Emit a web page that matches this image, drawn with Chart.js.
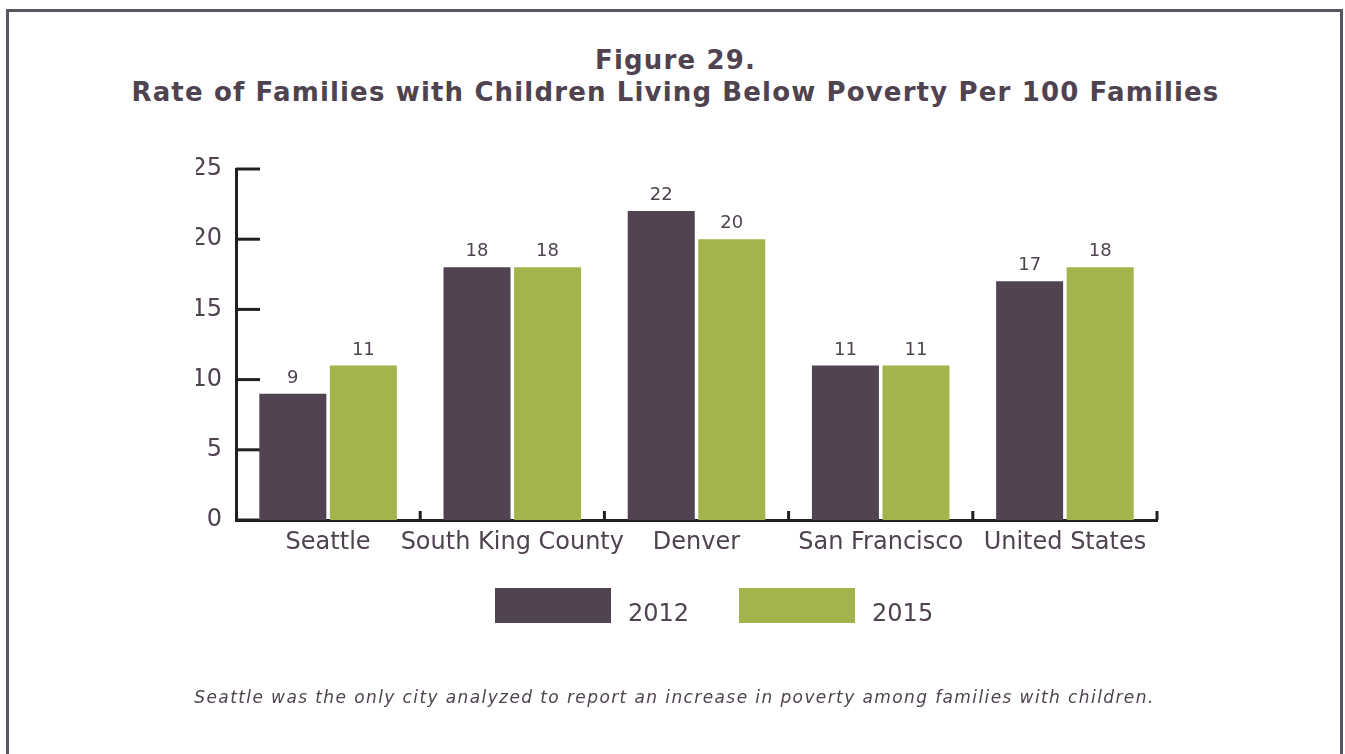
<!DOCTYPE html>
<html>
<head>
<meta charset="utf-8">
<script src="https://cdn.jsdelivr.net/npm/chart.js@4.4.0/dist/chart.umd.min.js"></script>
<style>
  body { margin: 0; background: #fff; width: 1345px; height: 754px; overflow: hidden; position: relative;
         font-family: "DejaVu Sans", Verdana, sans-serif; color: #4f4350; }
  .frame { position: absolute; left: 6px; top: 9px; width: 1337px; height: 800px; box-sizing: border-box;
           border: 3px solid #5a5360; border-bottom: none; }
  .title { position: absolute; top: 44px; left: 3px; width: 1345px; text-align: center; font-size: 26px;
           font-weight: bold; line-height: 32px; letter-spacing: 1.15px; }
  #wrap { position: absolute; left: 0; top: 0; width: 1345px; height: 754px; }
  .legend { position: absolute; top: 588px; left: 495px; display: flex; align-items: flex-end; font-size: 24px; }
  .legend .item { display: flex; align-items: flex-end; margin-right: 50px; }
  .legend .box { width: 116px; height: 35px; margin-right: 17px; }
  .legend .lbl { line-height: 1; margin-bottom: -2px; }
  .note { position: absolute; top: 687px; left: 0; width: 1345px; text-align: center; padding-left: 2px;
          font-size: 17px; font-style: italic; letter-spacing: 1.4px; }
</style>
</head>
<body>
<div class="frame"></div>
<div class="title">Figure 29.<br>Rate of Families with Children Living Below Poverty Per 100 Families</div>
<div id="wrap"><canvas id="chart"></canvas></div>
<div class="legend" id="legend"></div>
<div class="note">Seattle was the only city analyzed to report an increase in poverty among families with children.</div>
<script>
const categories = ['Seattle', 'South King County', 'Denver', 'San Francisco', 'United States'];
const rate2012 = [9, 18, 22, 11, 17];
const rate2015 = [11, 18, 20, 11, 18];
const seriesNames = ['2012', '2015'];
const seriesColors = ['#514352', '#a2b44b'];
const yMax = 25;
const yStep = 5;

const textColor = '#4f4350';
const axisColor = '#231f20';

// inward tick marks + value labels above bars
const decorations = {
  id: 'decorations',
  beforeDatasetsDraw(chart) {
    const { ctx, scales: { x, y }, chartArea } = chart;
    ctx.save();
    ctx.strokeStyle = axisColor;
    ctx.lineWidth = 3;
    y.ticks.forEach((t, i) => {
      const py = y.getPixelForTick(i);
      ctx.beginPath();
      ctx.moveTo(chartArea.left, py);
      ctx.lineTo(chartArea.left + 24, py);
      ctx.stroke();
    });
    for (let i = 0; i < categories.length; i++) {
      const px = x.getPixelForValue(i + 0.5);
      ctx.beginPath();
      ctx.moveTo(px, chartArea.bottom);
      ctx.lineTo(px, chartArea.bottom - 9);
      ctx.stroke();
    }
    ctx.restore();
  },
  afterDatasetsDraw(chart) {
    const { ctx } = chart;
    ctx.save();
    ctx.fillStyle = textColor;
    ctx.font = '18px "DejaVu Sans"';
    ctx.textAlign = 'center';
    ctx.textBaseline = 'alphabetic';
    chart.data.datasets.forEach((ds, di) => {
      chart.getDatasetMeta(di).data.forEach((bar, i) => {
        ctx.fillText(String(ds.data[i]), bar.x, bar.y - 11);
      });
    });
    ctx.restore();
  }
};

function buildChart() {
  const chart = new Chart(document.getElementById('chart'), {
    type: 'bar',
    data: {
      labels: categories,
      datasets: [
        { label: seriesNames[0], data: rate2012, backgroundColor: seriesColors[0] },
        { label: seriesNames[1], data: rate2015, backgroundColor: seriesColors[1] }
      ]
    },
    options: {
      responsive: true,
      maintainAspectRatio: false,
      animation: false,
      categoryPercentage: 0.766,
      barPercentage: 0.95,
      layout: { padding: { left: 196, right: 188, top: 169, bottom: 184 } },
      plugins: {
        legend: { display: false },
        tooltip: { enabled: false }
      },
      scales: {
        x: {
          grid: { display: false, drawTicks: false },
          border: { display: true, color: axisColor, width: 3 },
          ticks: { color: textColor, font: { family: '"DejaVu Sans"', size: 24 }, padding: 8, maxRotation: 0, autoSkip: false },
          afterFit(scale) { scale.height = 50; }
        },
        y: {
          min: 0,
          max: yMax,
          grid: { display: false, drawTicks: false },
          border: { display: true, color: axisColor, width: 3 },
          ticks: { stepSize: yStep, color: textColor, font: { family: '"DejaVu Sans"', size: 24 }, padding: 14 },
          afterFit(scale) { scale.width = 40; }
        }
      }
    },
    plugins: [decorations]
  });

  // legend from the datasets
  const legend = document.getElementById('legend');
  chart.data.datasets.forEach(ds => {
    const item = document.createElement('div');
    item.className = 'item';
    const box = document.createElement('div');
    box.className = 'box';
    box.style.background = ds.backgroundColor;
    const lbl = document.createElement('div');
    lbl.className = 'lbl';
    lbl.textContent = ds.label;
    item.appendChild(box);
    item.appendChild(lbl);
    legend.appendChild(item);
  });
}

Promise.all([
  document.fonts.load('24px "DejaVu Sans"'),
  document.fonts.load('18px "DejaVu Sans"')
]).then(buildChart, buildChart);
</script>
</body>
</html>
